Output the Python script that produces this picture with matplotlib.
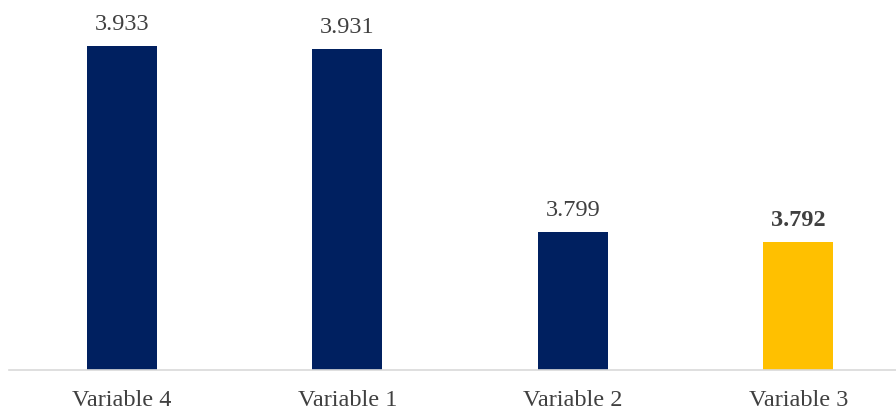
import matplotlib
matplotlib.use("Agg")
from matplotlib import pyplot as plt

categories = ["Variable 4", "Variable 1", "Variable 2", "Variable 3"]
values = [3.933, 3.931, 3.799, 3.792]
colors = ["#002060", "#002060", "#002060", "#FFC000"]
bold = [False, False, False, True]

plt.rcParams['font.family'] = ['Liberation Serif', 'DejaVu Serif']

fig = plt.figure(figsize=(8.96, 4.10), dpi=100)
ax = fig.add_axes([9 / 896, 39 / 410, 887 / 896, 371 / 410])

x = range(len(categories))
bars = ax.bar(x, values, width=0.31, color=colors)
ax.set_xlim(-0.5, 3.5 - 15 / 225.5)
ax.set_ylim(3.7, 3.7 + 371 / 1389)

for b, v, bd in zip(bars, values, bold):
    ax.annotate("{:.3f}".format(v), (b.get_x() + b.get_width() / 2, v),
                xytext=(0, 9), textcoords="offset points",
                ha="center", va="bottom", fontsize=17.5, color="#404040",
                fontweight="bold" if bd else "normal")

ax.set_xticks(list(x))
ax.set_xticklabels(categories, fontsize=17.5, color="#404040")
ax.tick_params(axis="x", length=0, pad=14)
ax.set_yticks([])
for s in ["top", "right", "left"]:
    ax.spines[s].set_visible(False)
ax.spines["bottom"].set_color("#d9d9d9")
ax.spines["bottom"].set_linewidth(1.2)

fig.savefig("out.png", dpi=100)
